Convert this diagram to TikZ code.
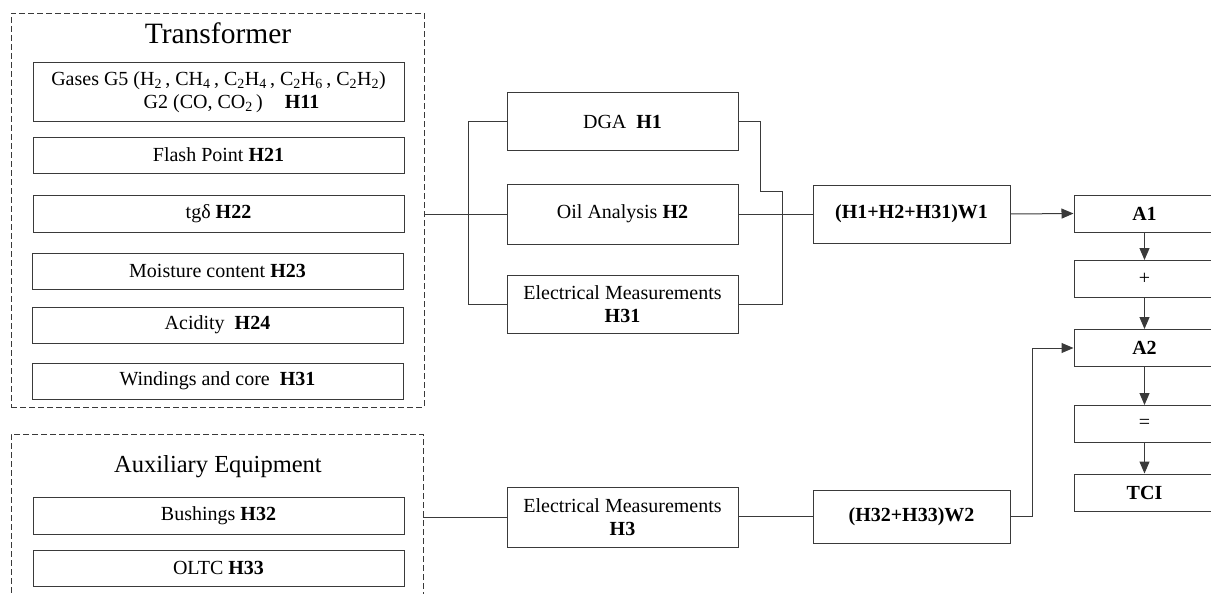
\documentclass[tikz,border=0pt]{standalone}
\usepackage{fontspec}
\setmainfont{Liberation Serif}
\usetikzlibrary{arrows.meta}
\definecolor{edge}{HTML}{3A3A3A}
\tikzset{
  box/.style={draw=edge, line width=1pt, minimum width=371pt, inner sep=0pt,
    font=\fontsize{20}{23}\selectfont, align=center},
  midbox/.style={box, minimum width=231pt},
  wbox/.style={box, minimum width=197pt},
  sumbox/.style={box, minimum width=141pt, minimum height=37pt},
  group/.style={draw=edge, line width=0.9pt, dash pattern=on 6pt off 3pt, inner sep=0pt},
  title/.style={font=\fontsize{29.5}{32}\selectfont},
  wire/.style={draw=edge, line width=1pt},
  flow/.style={wire, -{Triangle[length=12pt,width=10pt]}}
}
\begin{document}
\begin{tikzpicture}[x=1pt, y=-1pt]
\useasboundingbox (0,0) rectangle (1211,594);

% Transformer group
\node[group, minimum width=413pt, minimum height=394pt] (tr) at (217.5,210) {};
\node[title] (trt) at (218,33) {Transformer};
\node[box, minimum height=58pt] (gas) at (218.5,92)
  {Gases G5 (H\textsubscript{2}\,, CH\textsubscript{4}\,, C\textsubscript{2}H\textsubscript{4}\,, C\textsubscript{2}H\textsubscript{6}\,, C\textsubscript{2}H\textsubscript{2})\\
   \hspace*{26pt}G2 (CO, CO\textsubscript{2}\,)\hspace{1.1em}\textbf{H11}};
\node[box, minimum height=36pt] (flash) at (218.5,155) {Flash Point \textbf{H21}};
\node[box, minimum height=37pt] (tgd) at (218.5,213.5) {tgδ \textbf{H22}};
\node[box, minimum height=36pt] (moist) at (217.5,271) {Moisture content \textbf{H23}};
\node[box, minimum height=36pt] (acid) at (217.5,325) {Acidity\enspace\textbf{H24}};
\node[box, minimum height=36pt] (wind) at (217.5,381) {Windings and core\enspace\textbf{H31}};

% Auxiliary equipment group
\node[group, minimum width=412pt, minimum height=166pt] (aux) at (217,517) {};
\node[title, font=\fontsize{24.5}{28}\selectfont] (auxt) at (218,467) {Auxiliary Equipment};
\node[box, minimum height=37pt] (bush) at (218.5,515.5) {Bushings \textbf{H32}};
\node[box, minimum height=36pt] (oltc) at (218.5,568) {OLTC \textbf{H33}};

% Measurement blocks
\node[midbox, minimum height=57pt] (dga) at (622.5,121.5) {DGA\enspace\textbf{H1}};
\node[midbox, minimum height=60pt] (oil) at (622.5,214) {Oil Analysis \textbf{H2}};
\node[midbox, minimum height=58pt] (em31) at (622.5,304) {Electrical Measurements\\\textbf{H31}};
\node[midbox, minimum height=60pt] (em3) at (622.5,517) {Electrical Measurements\\\textbf{H3}};

% Weighted sums
\node[wbox, minimum height=58pt] (w1) at (911.5,214) {\textbf{(H1+H2+H31)W1}};
\node[wbox, minimum height=53pt] (w2) at (911.5,516.5) {\textbf{(H32+H33)W2}};

% Index chain
\node[sumbox] (a1) at (1144.5,213.5) {\textbf{A1}};
\node[sumbox] (plus) at (1144.5,279) {+};
\node[sumbox] (a2) at (1144.5,348) {\textbf{A2}};
\node[sumbox] (eq) at (1144.5,424) {=};
\node[sumbox] (tci) at (1144.5,492.5) {\textbf{TCI}};

% Routing points
\coordinate (bl) at (468,0);
\coordinate (r1) at (760,0);
\coordinate (r2) at (782,0);
\coordinate (jn) at (0,191);
\coordinate (cr) at (1032,0);

% Parallel branch around the oil analysis
\draw[wire] (tr.east |- oil.west) -- (oil.west);
\draw[wire] (dga.west) -- (dga.west -| bl) -- (em31.west -| bl) -- (em31.west);
\draw[wire] (dga.east) -- (dga.east -| r1) -- (r1 |- jn) -- (jn -| r2)
  -- (em31.east -| r2) -- (em31.east);
\draw[wire] (oil.east) -- (w1.west);
\draw[flow] (w1.east) -- (a1.west);

% Auxiliary branch
\draw[wire] (aux.east |- em3.west) -- (em3.west);
\draw[wire] (em3.east) -- (w2.west -| em3.east) -- (w2.west);
\draw[flow] (w2.east) -- (w2.east -| cr) |- (a2.west);

% Index chain
\draw[flow] (a1.south) -- (plus.north);
\draw[flow] (plus.south) -- (a2.north);
\draw[flow] (a2.south) -- (eq.north);
\draw[flow] (eq.south) -- (tci.north);
\end{tikzpicture}
\end{document}
